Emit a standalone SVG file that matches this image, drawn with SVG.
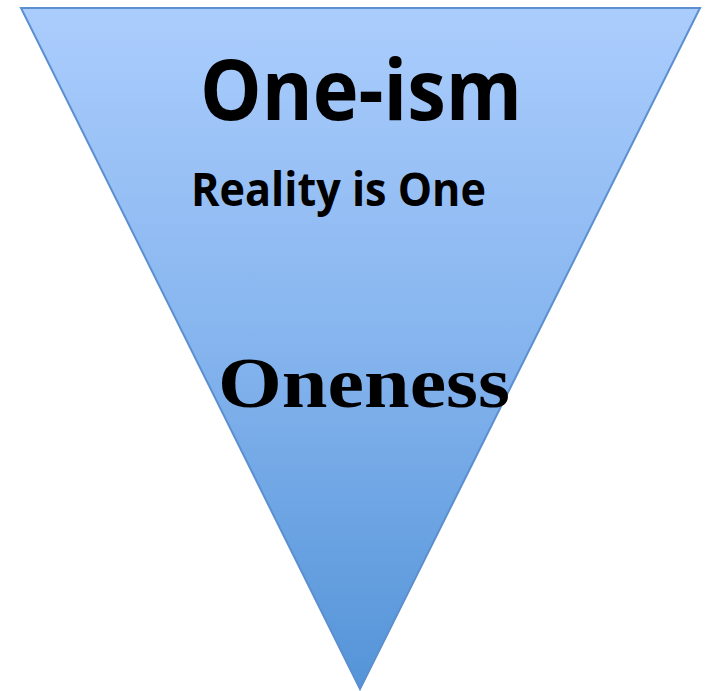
<svg xmlns="http://www.w3.org/2000/svg" width="708" height="691" viewBox="0 0 708 691">
<defs>
<linearGradient id="g" x1="0" y1="0" x2="0" y2="1">
<stop offset="0" stop-color="#abcdfd"/>
<stop offset="0.5" stop-color="#85b4ee"/>
<stop offset="1" stop-color="#5494d8"/>
</linearGradient>
<style>
.sans{font-family:"Open Sans","Liberation Sans",sans-serif;font-weight:bold;fill:#000}
.serif{font-family:"Liberation Serif","Times New Roman",serif;font-weight:bold;fill:#000}
</style>
</defs>
<rect width="708" height="691" fill="#fff"/>
<g id="triangle">
<polygon points="21,8 700,8 360,689" fill="url(#g)" stroke="#5b8fd0" stroke-width="2" stroke-linejoin="miter"/>
</g>
<g id="title">
<text class="sans" x="200" y="120" font-size="84" textLength="322" lengthAdjust="spacingAndGlyphs">One-ism</text>
</g>
<g id="subtitle">
<text class="sans" x="191" y="206" font-size="46" textLength="295" lengthAdjust="spacingAndGlyphs">Reality is One</text>
</g>
<g id="oneness">
<text class="serif" x="218" y="407" font-size="71" textLength="292" lengthAdjust="spacingAndGlyphs">Oneness</text>
</g>
</svg>
